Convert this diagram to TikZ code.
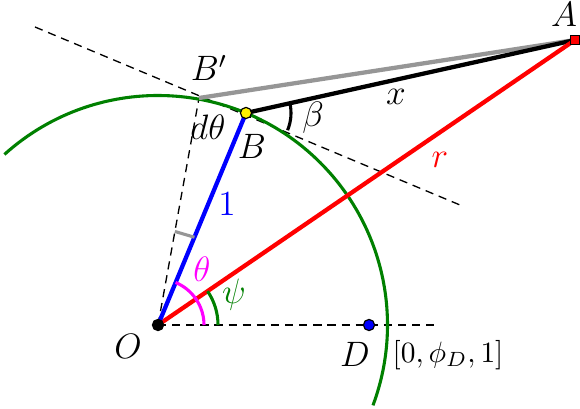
\documentclass[tikz,border=0pt]{standalone}
\usetikzlibrary{calc}
\definecolor{dkgreen}{RGB}{0,128,0}
\definecolor{mygray}{RGB}{150,150,150}
\definecolor{mymagenta}{RGB}{255,0,255}
\begin{document}
\begin{tikzpicture}[x=0.34pt,y=0.34pt,
  thickline/.style={line width=1.45pt},
  angline/.style={line width=1.05pt},
  dashline/.style={line width=0.45pt, dash pattern=on 2.8pt off 2pt},
  lbl/.style={inner sep=0pt, font=\fontsize{11.5}{13}\selectfont},
  dotmark/.style={circle, draw=black, line width=0.4pt, inner sep=0pt, minimum size=3.8pt}]
\useasboundingbox (0,0) rectangle (580,408);
\coordinate (O) at (158,83);
\coordinate (A) at (575,368);
\coordinate (B) at (246,295);
\coordinate (Bp) at (199,310);
\coordinate (D) at (369,83);
\coordinate (T1) at (35,381);
\coordinate (T2) at (460,203);
\coordinate (H) at (435,83);
% dashed lines
\draw[dashline] (T1) -- (T2);
\draw[dashline] (O) -- (H);
\draw[dashline] (O) -- (Bp);
% circle arc
\draw[dkgreen, line width=1.05pt] ($(O)+(132:229.5)$) arc[start angle=132, end angle=-20.5, radius=229.5];
% lines
\draw[mygray, thickline] (Bp) -- (A);
\draw[black, thickline] (B) -- (A);
\draw[red, thickline] (O) -- (A);
\draw[blue, thickline] (O) -- (B);
% d theta tick
\draw[mygray, line width=1.05pt] ($(O)!0.412!(Bp)$) -- ($(O)!0.414!(B)$);
% angle arcs
\draw[mymagenta, angline] ($(O)+(46,0)$) arc[start angle=0, end angle=67.5, radius=46];
\draw[dkgreen, angline] ($(O)+(60,0)$) arc[start angle=0, end angle=34.3, radius=60];
\draw[black, angline] ($(B)+(-22.5:45)$) arc[start angle=-22.5, end angle=12.5, radius=45];
% dots
\node[dotmark, fill=black] (Odot) at (O) {};
\node[dotmark, fill=blue] (Ddot) at (D) {};
\node[dotmark, fill=yellow] (Bdot) at (B) {};
\node[draw=black, fill=red, line width=0.4pt, inner sep=0pt, minimum size=2.8pt] (Adot) at (A) {};
% labels
\node[lbl] (lA) at (564,394) {$A$};
\node[lbl] (lBp) at (209,340) {$B'$};
\node[lbl] (ldt) at (208,281) {$d\theta$};
\node[lbl] (lB) at (252,262) {$B$};
\node[lbl] (lbeta) at (313,290) {$\beta$};
\node[lbl] (lx) at (396,311) {$x$};
\node[lbl, red] (lr) at (440,248) {$r$};
\node[lbl, blue] (l1) at (227,204) {$1$};
\node[lbl, mymagenta] (lth) at (202,139) {$\theta$};
\node[lbl, dkgreen] (lpsi) at (234,113) {$\psi$};
\node[lbl] (lO) at (128,62) {$O$};
\node[lbl] (lD) at (355,54) {$D$};
\node[inner sep=0pt] (lphi) at (448,53) {$[0,\phi_D,1]$};
\end{tikzpicture}
\end{document}
